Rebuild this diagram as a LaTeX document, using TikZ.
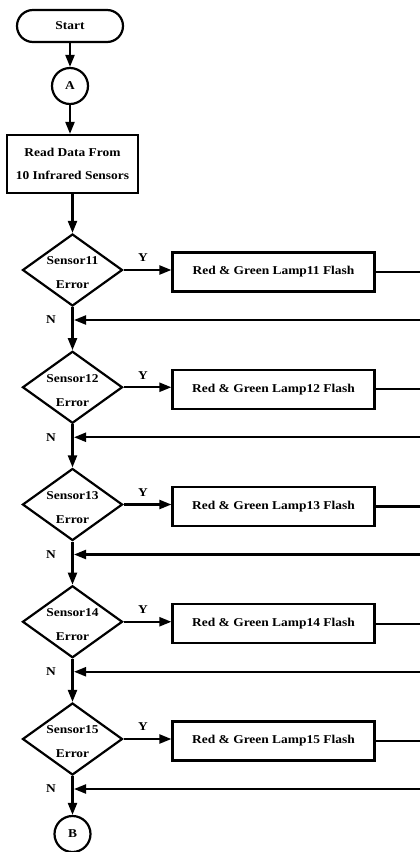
\documentclass[tikz,border=0pt]{standalone}
\usepackage{fontspec}
\setmainfont{Liberation Serif}[FakeStretch=1.12]
\usetikzlibrary{shapes.geometric,arrows.meta}
\tikzset{
  conn/.style={line width=2.2pt},
  arr/.style={conn,-{Triangle[length=12pt,width=9pt]}},
  txt/.style={font=\bfseries\fontsize{12}{14}\selectfont, inner sep=0pt},
  proc/.style={draw, line width=2.2pt, minimum width=202pt, minimum height=39pt, inner sep=0pt, font=\bfseries\fontsize{12}{14}\selectfont},
  dec/.style={draw, diamond, line width=2.2pt, minimum width=100pt, minimum height=72pt, inner sep=0pt, aspect=1.39},
  conncirc/.style={draw, circle, line width=2.2pt, minimum size=36pt, inner sep=0pt, font=\bfseries\fontsize{12}{14}\selectfont},
}
\begin{document}
\begin{tikzpicture}[x=1pt,y=-1pt]
\useasboundingbox (0,0) rectangle (420,852);
\node[draw, line width=2.2pt, rounded corners=16pt, minimum width=106pt, minimum height=32pt, font=\bfseries\fontsize{12}{14}\selectfont] (start) at (70,26) {Start};
\node[conncirc] (A) at (70,86) {A};
\node[draw, line width=2.2pt, minimum width=131pt, minimum height=58pt, inner sep=0pt, align=center, font=\bfseries\fontsize{12}{23}\selectfont] (read) at (72.5,164) {Read Data From\\10 Infrared Sensors};
\draw[arr] (start.south) -- (A.north);
\draw[arr] (A.south) -- (A.south |- read.north);
\foreach \i/\y in {11/270,12/387.25,13/504.5,14/621.75,15/739}{
  \node[dec] (d\i) at (72.5,\y) {};
  \node[txt, align=center, font=\bfseries\fontsize{12}{24}\selectfont] (t\i) at (72.5,\y+3) {Sensor\i\\Error};
  \node[proc] (b\i) at (273.5,\y+2) {Red \& Green Lamp\i{} Flash};
  \draw[arr] (d\i.east) -- (b\i.west |- d\i.east);
  \node[txt] (y\i) at (143,\y-12) {Y};
  \coordinate (o\i) at (420,\y+2);
  \draw[conn] (b\i.east) -- (o\i);
  \coordinate (r\i) at (421,\y+50);
  \coordinate (j\i) at (74,\y+50);
  \draw[arr] (r\i) -- (j\i);
  \node[txt] (n\i) at (51,\y+50) {N};
}
\node[conncirc] (B) at (72.5,834) {B};
\draw[arr] (read.south) -- (d11.north);
\draw[arr] (d11.south) -- (d12.north);
\draw[arr] (d12.south) -- (d13.north);
\draw[arr] (d13.south) -- (d14.north);
\draw[arr] (d14.south) -- (d15.north);
\draw[arr] (d15.south) -- (B.north);
\end{tikzpicture}
\end{document}
